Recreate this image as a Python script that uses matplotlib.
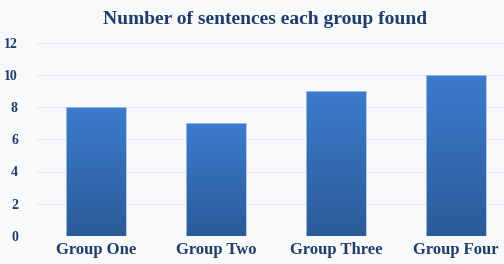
import numpy as np
import matplotlib.pyplot as plt
from matplotlib.colors import LinearSegmentedColormap

plt.rcParams["font.family"] = "Liberation Serif"
plt.rcParams["font.weight"] = "bold"

# データ
groups = ["Group One", "Group Two", "Group Three", "Group Four"]
sentences = [8, 7, 9, 10]
yticks = [0, 2, 4, 6, 8, 10, 12]

text_color = "#1f3d6a"
bg = "#f8f9fb"
cmap = LinearSegmentedColormap.from_list("bar", ["#2c5b98", "#3b7ccd"])

fig = plt.figure(figsize=(5.04, 2.64), dpi=100, facecolor=bg)
ax = fig.add_axes([36 / 504, 28 / 264, 468 / 504, 193.5 / 264], facecolor=bg)

x = np.arange(len(groups))
bars = ax.bar(x, sentences, width=0.5, color="none", edgecolor="#a9c3e6", linewidth=0.6, zorder=3)

# 縦方向のグラデーション
grad = np.linspace(0, 1, 256).reshape(-1, 1)
for b in bars:
    x0, y0 = b.get_x(), b.get_y()
    im = ax.imshow(grad, cmap=cmap, origin="lower", aspect="auto",
                   extent=[x0, x0 + b.get_width(), y0, y0 + b.get_height()], zorder=2)
    im.set_clip_path(b)

ax.set_xlim(-0.5, 3.4)
ax.set_ylim(0, 12)
ax.set_yticks(yticks)
ax.set_xticks(x)
ax.set_xticklabels(groups, fontsize=12, color=text_color)
ax.tick_params(axis="y", labelsize=10, labelcolor=text_color, length=0, pad=13)
ax.tick_params(axis="x", length=0, pad=4)
ax.grid(axis="y", color="#e6eaf0", linewidth=0.8, zorder=0)
for s in ax.spines.values():
    s.set_visible(False)

fig.text(265 / 504, 1 - 20 / 264, "Number of sentences each group found",
         ha="center", va="center", fontsize=14, color=text_color, fontweight="bold")

plt.savefig("out.png", dpi=100, facecolor=bg)
